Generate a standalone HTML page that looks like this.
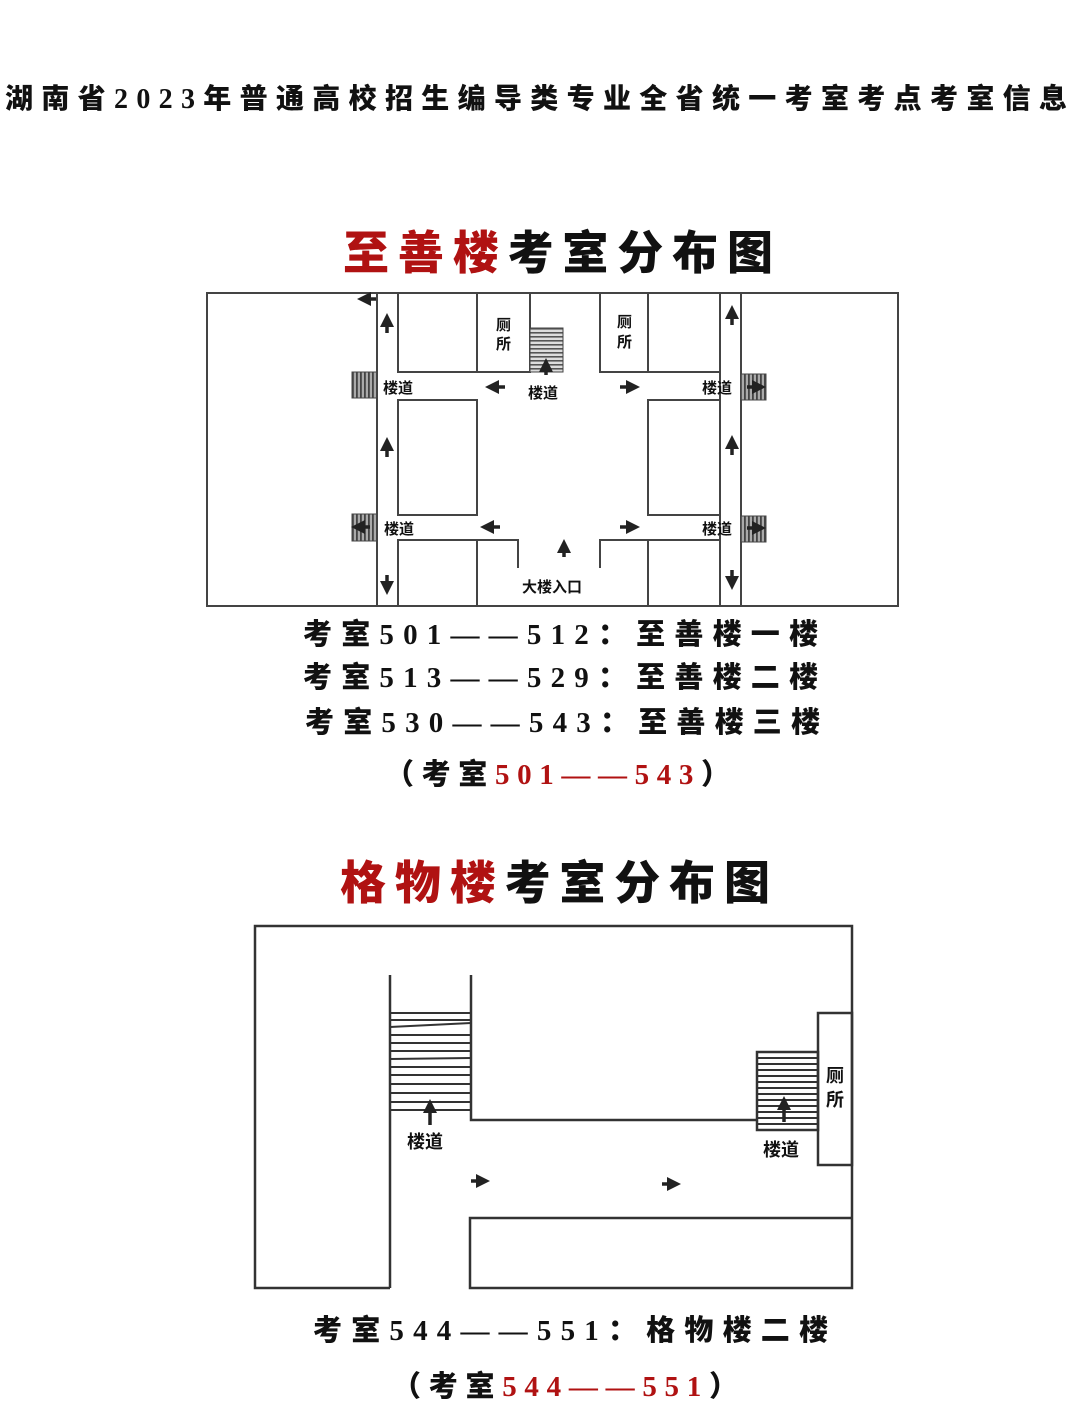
<!DOCTYPE html>
<html><head><meta charset="utf-8"><style>
html,body{margin:0;padding:0;background:#fff;}
svg{display:block}
.t{font-family:"Liberation Serif","Noto Sans CJK SC","WenQuanYi Zen Hei",serif;font-weight:900;fill:#111;}
.c{font-family:"Liberation Sans","Noto Sans CJK SC",sans-serif;font-weight:bold;fill:#111;}
.r{fill:#b01212}
.l{stroke:#444;stroke-width:2;fill:none}
</style></head><body>
<svg width="1080" height="1421" viewBox="0 0 1080 1421" xmlns="http://www.w3.org/2000/svg">
<defs>
<marker id="ah" markerWidth="4" markerHeight="4" refX="2" refY="2" orient="auto" markerUnits="strokeWidth">
<path d="M0,0 L4,2 L0,4 z" fill="#222"/></marker>
<pattern id="st" width="6" height="4" patternUnits="userSpaceOnUse"><rect width="6" height="4" fill="#ddd"/><rect width="6" height="1.6" fill="#555"/></pattern>
<pattern id="sv" width="4" height="6" patternUnits="userSpaceOnUse"><rect width="4" height="6" fill="#aaa"/><rect width="1.8" height="6" fill="#444"/></pattern>
</defs>

<text class="t" x="5" y="108" font-size="28" textLength="1062" lengthAdjust="spacing">湖南省2023年普通高校招生编导类专业全省统一考室考点考室信息</text>

<text class="t" x="343" y="269" font-size="46" textLength="430" lengthAdjust="spacing"><tspan class="r">至善楼</tspan>考室分布图</text>

<!-- diagram 1 -->
<g class="l">
<rect x="207" y="293" width="691" height="313"/>
<line x1="377" y1="293" x2="377" y2="606"/>
<line x1="398" y1="293" x2="398" y2="372"/>
<rect x="398" y="293" width="79" height="79"/>
<rect x="477" y="293" width="53" height="79"/>
<line x1="530" y1="293" x2="530" y2="372"/>
<rect x="600" y="293" width="48" height="79"/>
<rect x="648" y="293" width="72" height="79"/>
<line x1="741" y1="293" x2="741" y2="606"/>
<line x1="720" y1="293" x2="720" y2="606"/>
<rect x="398" y="400" width="79" height="115"/>
<rect x="648" y="400" width="72" height="115"/>
<line x1="398" y1="400" x2="398" y2="515"/>
<polyline points="398,606 398,540 518,540 518,568"/>
<line x1="477" y1="540" x2="477" y2="606"/>
<polyline points="600,568 600,540 720,540"/>
<line x1="648" y1="540" x2="648" y2="606"/>
</g>
<rect x="530" y="328" width="33" height="44" fill="url(#st)" stroke="#444"/>
<rect x="352" y="372" width="25" height="26" fill="url(#sv)" stroke="#444"/>
<rect x="352" y="514" width="25" height="27" fill="url(#sv)" stroke="#444"/>
<rect x="741" y="374" width="25" height="26" fill="url(#sv)" stroke="#444"/>
<rect x="741" y="516" width="25" height="26" fill="url(#sv)" stroke="#444"/>
<g stroke="#222" stroke-width="3.5" marker-end="url(#ah)">
<line x1="376" y1="299" x2="364" y2="299"/>
<line x1="387" y1="333" x2="387" y2="320"/>
<line x1="387" y1="457" x2="387" y2="444"/>
<line x1="387" y1="575" x2="387" y2="588"/>
<line x1="732" y1="325" x2="732" y2="312"/>
<line x1="732" y1="455" x2="732" y2="442"/>
<line x1="732" y1="570" x2="732" y2="583"/>
<line x1="505" y1="387" x2="492" y2="387"/>
<line x1="620" y1="387" x2="633" y2="387"/>
<line x1="500" y1="527" x2="487" y2="527"/>
<line x1="620" y1="527" x2="633" y2="527"/>
<line x1="546" y1="375" x2="546" y2="365"/>
<line x1="564" y1="557" x2="564" y2="546"/>
<line x1="370" y1="527" x2="358" y2="527"/>
<line x1="747" y1="387" x2="759" y2="387"/>
<line x1="747" y1="528" x2="759" y2="528"/>
</g>
<g class="c" font-size="15">
<text x="383" y="393">楼道</text>
<text x="528" y="398">楼道</text>
<text x="702" y="393">楼道</text>
<text x="384" y="534">楼道</text>
<text x="702" y="534">楼道</text>
<text x="522" y="592">大楼入口</text>
<text x="496" y="330">厕</text><text x="496" y="349">所</text>
<text x="617" y="327">厕</text><text x="617" y="347">所</text>
</g>

<g class="t" font-size="29">
<text x="303" y="644" textLength="515" lengthAdjust="spacing">考室501——512：至善楼一楼</text>
<text x="303" y="687" textLength="515" lengthAdjust="spacing">考室513——529：至善楼二楼</text>
<text x="305" y="732" textLength="515" lengthAdjust="spacing">考室530——543：至善楼三楼</text>
<text x="385" y="784" textLength="345" lengthAdjust="spacing">（考室<tspan class="r">501——543</tspan>）</text>
</g>

<text class="t" x="340" y="899" font-size="46" textLength="430" lengthAdjust="spacing"><tspan class="r">格物楼</tspan>考室分布图</text>

<!-- diagram 2 -->
<g stroke="#333" stroke-width="2.5" fill="none">
<polyline points="390,1288 255,1288 255,926 852,926 852,1218 470,1218 470,1288 852,1288 852,1218"/>
<line x1="390" y1="975" x2="390" y2="1288"/>
<polyline points="471,975 471,1120 757,1120"/>
<rect x="818" y="1013" width="34" height="152"/>
<rect x="757" y="1052" width="61" height="78"/>
</g>
<g stroke="#333" stroke-width="2">
<line x1="390" y1="1013" x2="471" y2="1013"/>
<line x1="390" y1="1020" x2="471" y2="1020"/>
<line x1="390" y1="1027" x2="471" y2="1023"/>
<line x1="390" y1="1035" x2="471" y2="1035"/>
<line x1="390" y1="1043" x2="471" y2="1043"/>
<line x1="390" y1="1051" x2="471" y2="1051"/>
<line x1="390" y1="1059" x2="471" y2="1058"/>
<line x1="390" y1="1067" x2="471" y2="1067"/>
<line x1="390" y1="1075" x2="471" y2="1075"/>
<line x1="390" y1="1084" x2="471" y2="1084"/>
<line x1="390" y1="1093" x2="471" y2="1093"/>
<line x1="390" y1="1102" x2="471" y2="1102"/>
<line x1="390" y1="1110" x2="471" y2="1110"/>
<line x1="757" y1="1058" x2="818" y2="1058"/>
<line x1="757" y1="1064" x2="818" y2="1064"/>
<line x1="757" y1="1070" x2="818" y2="1070"/>
<line x1="757" y1="1076" x2="818" y2="1076"/>
<line x1="757" y1="1082" x2="818" y2="1082"/>
<line x1="757" y1="1088" x2="818" y2="1088"/>
<line x1="757" y1="1094" x2="818" y2="1094"/>
<line x1="757" y1="1100" x2="818" y2="1100"/>
<line x1="757" y1="1106" x2="818" y2="1106"/>
<line x1="757" y1="1112" x2="818" y2="1112"/>
<line x1="757" y1="1118" x2="818" y2="1118"/>
<line x1="757" y1="1124" x2="818" y2="1124"/>
</g>
<g stroke="#222" stroke-width="3.5" marker-end="url(#ah)">
<line x1="430" y1="1125" x2="430" y2="1106"/>
<line x1="784" y1="1122" x2="784" y2="1103"/>
<line x1="471" y1="1181" x2="483" y2="1181"/>
<line x1="662" y1="1184" x2="674" y2="1184"/>
</g>
<g class="c" font-size="18">
<text x="407" y="1148">楼道</text>
<text x="763" y="1156">楼道</text>
<text x="826" y="1082">厕</text><text x="826" y="1106">所</text>
</g>

<g class="t" font-size="29">
<text x="313" y="1340" textLength="515" lengthAdjust="spacing">考室544——551：格物楼二楼</text>
<text x="392" y="1396" textLength="346" lengthAdjust="spacing">（考室<tspan class="r">544——551</tspan>）</text>
</g>
</svg>
</body></html>
